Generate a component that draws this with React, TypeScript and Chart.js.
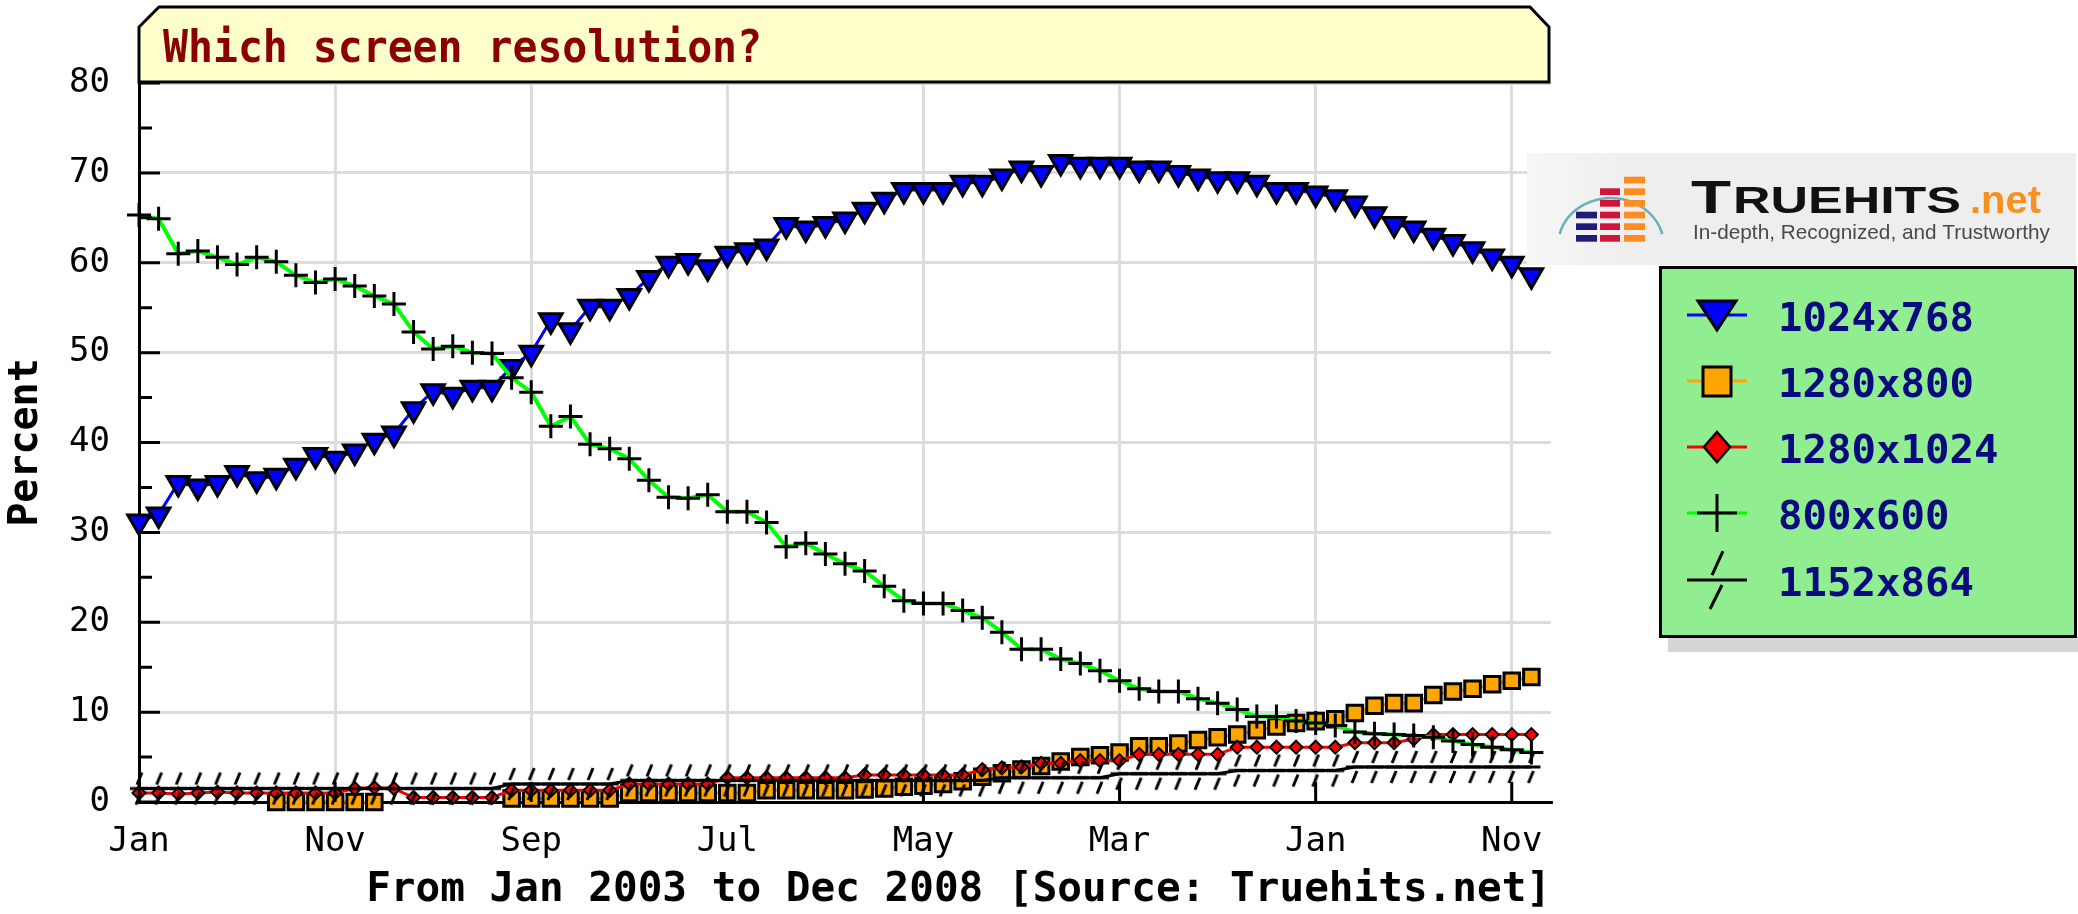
import React, { useEffect, useRef } from 'react';
import { Chart, registerables } from 'chart.js';

Chart.register(...registerables);

const CANVAS_W = 2078;
const CANVAS_H = 914;
const MONO = '"DejaVu Sans Mono", monospace';
const SANS = '"Liberation Sans", Arial, sans-serif';

// ---- data ----
const monthNames = ['Jan', 'Feb', 'Mar', 'Apr', 'May', 'Jun', 'Jul', 'Aug', 'Sep', 'Oct', 'Nov', 'Dec'];
const years = [2003, 2004, 2005, 2006, 2007, 2008];
const categories = years.flatMap((y) => monthNames.map((m) => `${m} ${y}`));

const seriesLabels = ['1024x768', '1280x800', '1280x1024', '800x600', '1152x864'];

const res1024x768 = [
  31.2, 32.0, 35.5, 35.1, 35.5, 36.6, 35.9, 36.3, 37.4, 38.6,
  38.2, 39.0, 40.2, 41.0, 43.7, 45.7, 45.3, 46.1, 46.1, 48.4,
  50.0, 53.6, 52.5, 55.1, 55.1, 56.3, 58.3, 59.9, 60.2, 59.5,
  61.0, 61.4, 61.8, 64.2, 63.8, 64.3, 64.8, 65.9, 67.0, 68.1,
  68.1, 68.1, 68.9, 68.9, 69.6, 70.5, 70.0, 71.2, 70.9, 70.9,
  70.9, 70.5, 70.5, 70.0, 69.6, 69.3, 69.3, 68.9, 68.1, 68.1,
  67.7, 67.3, 66.6, 65.4, 64.3, 63.8, 63.0, 62.3, 61.5, 60.7,
  59.9, 58.6,
];

const res1280x800 = [
  null, null, null, null, null, null, null, 0, 0, 0,
  0, 0, 0, null, null, null, null, null, null, 0.4,
  0.4, 0.4, 0.4, 0.4, 0.4, 1.0, 1.0, 1.0, 1.0, 1.0,
  1.0, 1.0, 1.3, 1.3, 1.3, 1.3, 1.3, 1.4, 1.5, 1.7,
  1.8, 2.0, 2.3, 2.8, 3.2, 3.6, 4.0, 4.5, 5.0, 5.2,
  5.5, 6.2, 6.2, 6.5, 6.9, 7.2, 7.5, 8.0, 8.4, 8.8,
  9.0, 9.2, 9.9, 10.7, 11.0, 11.0, 11.9, 12.3, 12.6, 13.1,
  13.5, 13.9,
];

const res1280x1024 = [
  1.0, 1.0, 0.9, 1.0, 1.1, 1.0, 1.0, 1.0, 1.0, 1.0,
  1.0, 1.5, 1.6, 1.5, 0.5, 0.5, 0.5, 0.5, 0.5, 1.3,
  1.3, 1.3, 1.3, 1.3, 1.3, 2.0, 2.0, 2.0, 2.0, 2.0,
  2.7, 2.7, 2.7, 2.7, 2.7, 2.7, 2.7, 3.0, 3.0, 3.0,
  3.0, 3.0, 3.0, 3.6, 3.8, 3.9, 4.3, 4.3, 4.6, 4.6,
  4.6, 5.3, 5.3, 5.3, 5.3, 5.3, 6.1, 6.1, 6.1, 6.1,
  6.1, 6.1, 6.6, 6.6, 6.6, 7.0, 7.5, 7.5, 7.5, 7.5,
  7.5, 7.5,
];

const res800x600 = [
  65.3, 64.9, 61.0, 61.3, 60.6, 59.8, 60.6, 60.1, 58.6, 57.8,
  58.2, 57.4, 56.3, 55.4, 52.3, 50.4, 50.7, 50.0, 49.9, 47.2,
  45.6, 41.8, 42.9, 39.8, 39.3, 38.2, 35.8, 33.9, 33.8, 34.2,
  32.3, 32.3, 31.1, 28.4, 28.8, 27.6, 26.5, 25.7, 24.0, 22.4,
  22.1, 22.1, 21.3, 20.5, 18.9, 17.0, 17.0, 15.9, 15.4, 14.6,
  13.5, 12.6, 12.3, 12.3, 11.5, 11.0, 10.3, 9.5, 9.5, 9.0,
  8.8, 8.5, 7.8, 7.6, 7.5, 7.4, 7.2, 6.8, 6.4, 6.1,
  5.8, 5.5,
];

const res1152x864 = [
  1.5, 1.5, 1.5, 1.5, 1.5, 1.5, 1.5, 1.5, 1.5, 1.5,
  1.5, 1.5, 1.5, 1.5, 1.5, 1.5, 1.5, 1.5, 1.5, 2.0,
  2.0, 2.0, 2.0, 2.0, 2.0, 2.4, 2.4, 2.4, 2.4, 2.4,
  2.4, 2.4, 2.4, 2.4, 2.4, 2.4, 2.4, 2.4, 2.4, 2.4,
  2.4, 2.4, 2.4, 2.4, 2.7, 2.7, 2.7, 2.7, 2.7, 2.7,
  3.15, 3.15, 3.15, 3.15, 3.15, 3.15, 3.5, 3.5, 3.5, 3.5,
  3.5, 3.5, 3.9, 3.9, 3.9, 3.9, 3.9, 3.9, 3.9, 3.9,
  3.9, 3.9,
];

const xTickStep = 10; // months between labelled ticks
const xAxisMax = 72;
const yAxisMax = 80;
const yTickStep = 10;

const titleText = 'Which screen resolution?';
const xAxisTitle = 'From Jan 2003 to Dec 2008 [Source: Truehits.net]';
const yAxisTitle = 'Percent';
const logoWord = 'TRUEHITS';
const logoSuffix = '.net';
const logoTagline = 'In-depth, Recognized, and Trustworthy';

const legendMarkers = ['triangle', 'square', 'diamond', 'cross', 'slash'];

// ---- helpers ----
const toPoints = (arr: (number | null)[]) => arr.map((v, i) => ({ x: i, y: v }));

function fitText(ctx: CanvasRenderingContext2D, text: string, x: number, y: number, width: number) {
  const w = ctx.measureText(text).width;
  ctx.save();
  ctx.translate(x, y);
  ctx.scale(width / w, 1);
  ctx.textAlign = 'left';
  ctx.fillText(text, 0, 0);
  ctx.restore();
}

function makeSlashMarker() {
  const c = document.createElement('canvas');
  c.width = 24;
  c.height = 36;
  const g = c.getContext('2d')!;
  g.strokeStyle = '#000';
  g.lineWidth = 3;
  g.beginPath();
  g.moveTo(3, 18);
  g.lineTo(21, 18);
  g.moveTo(15, 2);
  g.lineTo(10, 14);
  g.moveTo(14, 22);
  g.lineTo(9, 34);
  g.stroke();
  return c;
}

function drawLegendMarker(ctx: CanvasRenderingContext2D, kind: string, cx: number, cy: number, ds: any) {
  ctx.save();
  ctx.lineJoin = 'miter';
  ctx.strokeStyle = '#000';
  ctx.lineWidth = 3;
  if (kind === 'triangle') {
    ctx.beginPath();
    ctx.moveTo(cx - 19, cy - 14);
    ctx.lineTo(cx + 19, cy - 14);
    ctx.lineTo(cx, cy + 15);
    ctx.closePath();
    ctx.fillStyle = ds.pointBackgroundColor;
    ctx.fill();
    ctx.stroke();
  } else if (kind === 'square') {
    ctx.fillStyle = ds.pointBackgroundColor;
    ctx.fillRect(cx - 14, cy - 14, 28, 29);
    ctx.strokeRect(cx - 14, cy - 14, 28, 29);
  } else if (kind === 'diamond') {
    ctx.beginPath();
    ctx.moveTo(cx, cy - 15);
    ctx.lineTo(cx + 13, cy);
    ctx.lineTo(cx, cy + 15);
    ctx.lineTo(cx - 13, cy);
    ctx.closePath();
    ctx.fillStyle = ds.pointBackgroundColor;
    ctx.fill();
    ctx.lineWidth = 2.5;
    ctx.stroke();
  } else if (kind === 'cross') {
    ctx.beginPath();
    ctx.moveTo(cx, cy - 19);
    ctx.lineTo(cx, cy + 19);
    ctx.moveTo(cx - 20, cy);
    ctx.lineTo(cx + 20, cy);
    ctx.stroke();
  } else if (kind === 'slash') {
    ctx.beginPath();
    ctx.moveTo(cx + 6, cy - 29);
    ctx.lineTo(cx - 5, cy - 5);
    ctx.moveTo(cx + 5, cy + 5);
    ctx.lineTo(cx - 7, cy + 29);
    ctx.stroke();
  }
  ctx.restore();
}

function drawLogo(ctx: CanvasRenderingContext2D) {
  const lx = 1527, ly = 153, lw = 549, lh = 112;
  const g = ctx.createLinearGradient(lx, ly, lx + lw, ly);
  g.addColorStop(0, '#f6f6f6');
  g.addColorStop(0.2, '#eeeeee');
  g.addColorStop(1, '#eeeeee');
  ctx.fillStyle = g;
  ctx.fillRect(lx, ly, lw, lh);

  ctx.save();
  ctx.strokeStyle = 'rgba(80,165,180,0.85)';
  ctx.lineWidth = 2.5;
  ctx.beginPath();
  ctx.ellipse(1611, 246, 53, 48, 0, Math.PI * 1.08, Math.PI * 1.92);
  ctx.stroke();
  ctx.restore();

  const rows = [176.7, 188.3, 200, 211.7, 223.3, 235];
  const bh = 6.7;
  rows.forEach((ry, i) => {
    ctx.fillStyle = '#ff8c1e';
    ctx.fillRect(1624, ry, 21, bh);
    if (i >= 1) {
      ctx.fillStyle = '#d2143a';
      ctx.fillRect(1600, ry, 20, bh);
    }
    if (i >= 3) {
      ctx.fillStyle = '#1e1e78';
      ctx.fillRect(1576, ry, 21, bh);
    }
  });

  ctx.fillStyle = '#111111';
  ctx.textBaseline = 'alphabetic';
  ctx.font = `bold 46px ${SANS}`;
  fitText(ctx, logoWord[0], 1691, 213, 40);
  ctx.font = `bold 36px ${SANS}`;
  fitText(ctx, logoWord.slice(1), 1733, 213, 228);
  ctx.fillStyle = '#f7901e';
  ctx.font = `bold 38px ${SANS}`;
  fitText(ctx, logoSuffix, 1970, 213, 71);
  ctx.fillStyle = '#4a4a4a';
  ctx.font = `21px ${SANS}`;
  fitText(ctx, logoTagline, 1693, 239, 357);
}

const decorPlugin = {
  id: 'decor',
  beforeDraw(chart: any) {
    const { ctx } = chart;
    ctx.save();
    ctx.fillStyle = '#ffffff';
    ctx.fillRect(0, 0, chart.width, chart.height);
    ctx.restore();
  },
  afterDraw(chart: any) {
    const { ctx, chartArea: ca } = chart;
    const xs = chart.scales.x;
    const ys = chart.scales.y;

    // inward tick marks
    ctx.save();
    ctx.strokeStyle = '#000';
    ctx.lineWidth = 3;
    ctx.beginPath();
    ys.ticks.forEach((t: any) => {
      const py = ys.getPixelForValue(t.value);
      ctx.moveTo(ca.left, py);
      ctx.lineTo(ca.left + 21, py);
      const mid = t.value + yTickStep / 2;
      if (mid < yAxisMax) {
        const pm = ys.getPixelForValue(mid);
        ctx.moveTo(ca.left, pm);
        ctx.lineTo(ca.left + 13, pm);
      }
    });
    xs.ticks.forEach((t: any) => {
      const px = xs.getPixelForValue(t.value);
      ctx.moveTo(px, ca.bottom);
      ctx.lineTo(px, ca.bottom - 20);
    });
    ctx.stroke();
    ctx.restore();

    // title box
    ctx.save();
    const bl = ca.left, br = ca.right - 2, bt = 7, bb = ca.top - 1;
    ctx.beginPath();
    ctx.moveTo(bl, bb);
    ctx.lineTo(bl, bt + 20);
    ctx.lineTo(bl + 20, bt);
    ctx.lineTo(br - 19, bt);
    ctx.lineTo(br, bt + 20);
    ctx.lineTo(br, bb);
    ctx.closePath();
    ctx.fillStyle = '#ffffcc';
    ctx.fill();
    ctx.strokeStyle = '#000';
    ctx.lineWidth = 3;
    ctx.stroke();
    ctx.fillStyle = '#8b0000';
    ctx.font = `bold 44px ${MONO}`;
    ctx.textBaseline = 'alphabetic';
    fitText(ctx, titleText, 163, 62, 599);
    ctx.restore();

    // logo
    ctx.save();
    drawLogo(ctx);
    ctx.restore();

    // legend
    ctx.save();
    ctx.fillStyle = '#d6d6d6';
    ctx.fillRect(1668, 637, 410, 15);
    ctx.fillStyle = '#90ee90';
    ctx.fillRect(1660, 267, 416, 370);
    ctx.strokeStyle = '#000';
    ctx.lineWidth = 3;
    ctx.strokeRect(1660.5, 267.5, 415, 369);
    const rowY = [315, 381, 447, 513, 580];
    const dsList = chart.data.datasets;
    dsList.forEach((ds: any, i: number) => {
      const cy = rowY[i];
      ctx.strokeStyle = ds.borderColor;
      ctx.lineWidth = 3;
      ctx.beginPath();
      ctx.moveTo(1687, cy);
      ctx.lineTo(1747, cy);
      ctx.stroke();
      drawLegendMarker(ctx, legendMarkers[i], 1717, cy, ds);
      ctx.fillStyle = '#0a0a80';
      ctx.font = `bold 39px ${MONO}`;
      ctx.textBaseline = 'alphabetic';
      fitText(ctx, ds.label, 1778, cy + 16, ds.label.length * 24.5);
    });
    ctx.restore();
  },
};

export default function App() {
  const ref = useRef<HTMLCanvasElement>(null);

  useEffect(() => {
    const canvas = ref.current!;
    const slash = makeSlashMarker();
    const common = { borderWidth: 3, tension: 0, fill: false, clip: false as any, spanGaps: false };
    const chart = new Chart(canvas, {
      type: 'line',
      data: {
        datasets: [
          {
            ...common,
            label: seriesLabels[0],
            data: toPoints(res1024x768),
            borderColor: '#0000ff',
            pointStyle: 'triangle',
            pointRotation: 180,
            pointRadius: 13,
            pointBackgroundColor: '#0000ff',
            pointBorderColor: '#000000',
            pointBorderWidth: 3,
            order: 5,
          },
          {
            ...common,
            label: seriesLabels[1],
            data: toPoints(res1280x800),
            borderColor: '#ffa500',
            pointStyle: 'rect',
            pointRadius: 11,
            pointBackgroundColor: '#ffa500',
            pointBorderColor: '#000000',
            pointBorderWidth: 3,
            order: 4,
          },
          {
            ...common,
            label: seriesLabels[2],
            data: toPoints(res1280x1024),
            borderColor: '#ff0000',
            pointStyle: 'rectRot',
            pointRadius: 6.5,
            pointBackgroundColor: '#ff0000',
            pointBorderColor: '#000000',
            pointBorderWidth: 2,
            order: 3,
          },
          {
            ...common,
            label: seriesLabels[3],
            data: toPoints(res800x600),
            borderColor: '#00ff00',
            borderWidth: 4,
            pointStyle: 'cross',
            pointRadius: 12,
            pointBackgroundColor: '#000000',
            pointBorderColor: '#000000',
            pointBorderWidth: 3,
            order: 2,
          },
          {
            ...common,
            label: seriesLabels[4],
            data: toPoints(res1152x864),
            borderColor: '#000000',
            pointStyle: slash as any,
            pointRadius: 8,
            pointBackgroundColor: '#000000',
            pointBorderColor: '#000000',
            order: 1,
          },
        ] as any,
      },
      options: {
        responsive: false,
        animation: false,
        devicePixelRatio: 1,
        events: [],
        layout: { padding: { left: 0, top: 83, right: 527, bottom: 0 } },
        plugins: {
          legend: { display: false },
          tooltip: { enabled: false },
          title: { display: false },
        },
        scales: {
          x: {
            type: 'linear',
            min: 0,
            max: xAxisMax,
            afterBuildTicks: (axis: any) => {
              const t: any[] = [];
              for (let i = 0; i < categories.length; i += xTickStep) t.push({ value: i });
              axis.ticks = t;
            },
            afterFit: (axis: any) => {
              axis.height = 112;
            },
            ticks: {
              stepSize: xTickStep,
              autoSkip: false,
              maxRotation: 0,
              padding: 20,
              color: '#000',
              font: { family: MONO, size: 34, lineHeight: 1.2 },
              callback: (v: any) => (categories[v] ? categories[v].split(' ')[0] : ''),
            },
            grid: { color: '#dcdcdc', lineWidth: 3, drawTicks: false },
            border: { display: true, color: '#000', width: 3 },
            title: {
              display: true,
              text: xAxisTitle,
              align: 'end',
              color: '#000',
              font: { family: MONO, size: 41, weight: 'bold', lineHeight: 1 },
              padding: { top: 0, bottom: 3 },
            },
          },
          y: {
            type: 'linear',
            min: 0,
            max: yAxisMax,
            afterFit: (axis: any) => {
              axis.width = 139;
            },
            ticks: {
              stepSize: yTickStep,
              padding: 29,
              color: '#000',
              font: { family: MONO, size: 34, lineHeight: 1.2 },
            },
            grid: { color: '#dcdcdc', lineWidth: 3, drawTicks: false },
            border: { display: true, color: '#000', width: 3 },
            title: {
              display: true,
              text: yAxisTitle,
              color: '#000',
              font: { family: MONO, size: 40, weight: 'bold', lineHeight: 1 },
              padding: { top: 7, bottom: 0 },
            },
          },
        },
      } as any,
      plugins: [decorPlugin],
    });
    return () => chart.destroy();
  }, []);

  return (
    <div style={{ position: 'absolute', left: 0, top: 0, width: CANVAS_W, height: CANVAS_H, background: '#ffffff' }}>
      <canvas ref={ref} width={CANVAS_W} height={CANVAS_H} style={{ width: CANVAS_W, height: CANVAS_H, display: 'block' }} />
    </div>
  );
}
